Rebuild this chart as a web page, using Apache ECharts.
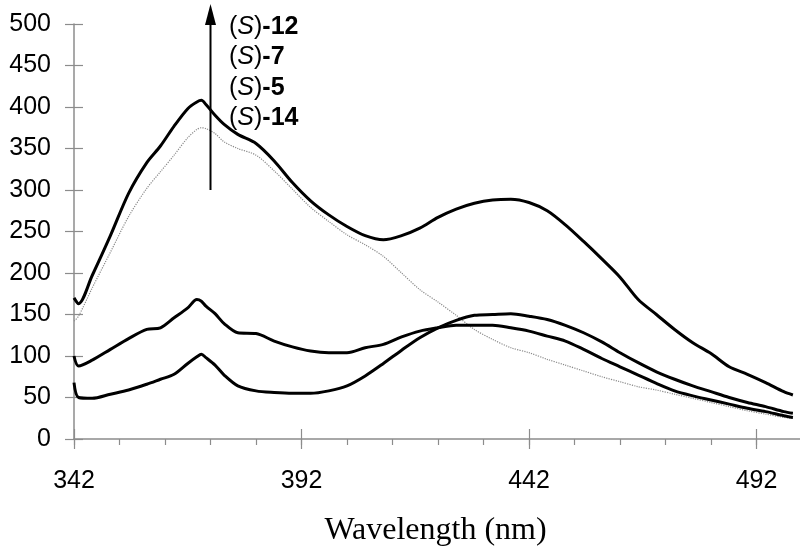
<!DOCTYPE html>
<html>
<head>
<meta charset="utf-8">
<script src="https://cdn.jsdelivr.net/npm/echarts@6/dist/echarts.min.js"></script>
<style>html,body{margin:0;padding:0;background:#fff}#chart{width:800px;height:558px}</style>
</head>
<body>
<div id="chart"></div>
<script>
// ---- data ----
const wavelengths = [342, 343, 346, 350, 354, 358, 361, 364, 367, 369, 370, 371, 373, 375, 378, 382, 386, 390, 394, 398, 402, 406, 410, 414, 418, 422, 426, 430, 434, 438, 442, 446, 450, 454, 458, 462, 466, 470, 474, 478, 482, 486, 490, 494, 498, 500];
const s12 = [170, 163, 197, 245, 296, 333, 353, 377, 398, 406, 408, 403, 390, 379, 367, 356, 335, 309, 287, 270, 256, 245, 240, 245, 254, 267, 277, 284, 288, 289, 285, 275, 258, 238, 217, 195, 168, 150, 132, 116, 103, 87, 78, 68, 57, 53];
const s7  = [142, 148, 182, 225, 268, 302, 322, 342, 363, 373, 375, 374, 368, 358, 350, 342, 323, 301, 279, 262, 246, 234, 220, 200, 180, 165, 149, 132, 120, 110, 104, 96, 89, 82, 75, 69, 63, 59, 54, 49, 44, 39, 34, 30, 26, 25];
const s5  = [100, 88, 95, 108, 121, 132, 134, 146, 158, 168, 166, 160, 151, 139, 128, 127, 118, 111, 106, 104, 104, 110, 114, 123, 130, 134, 137, 137, 137, 134, 130, 124, 118, 108, 97, 87, 77, 67, 58, 52, 47, 42, 37, 33, 28, 26];
const s14 = [68, 50, 49, 54, 59, 66, 72, 78, 91, 99, 102, 98, 89, 77, 64, 58, 56, 55, 55, 58, 64, 76, 91, 107, 122, 134, 143, 149, 150, 151, 148, 144, 137, 128, 117, 104, 92, 81, 72, 64, 57, 50, 44, 39, 33, 31];
const seriesNames = ['(S)-12', '(S)-7', '(S)-5', '(S)-14'];
const legendLabels = ['12', '7', '5', '14'];
const xTickLabels = [342, 392, 442, 492];
const yTickLabels = [0, 50, 100, 150, 200, 250, 300, 350, 400, 450, 500];
const arrowX = 372, arrowFrom = 300, arrowTo = 524;

// ---- chart ----
const chart = echarts.init(document.getElementById('chart'), null, {renderer: 'canvas'});
const pairs = arr => wavelengths.map((w, i) => [w, arr[i]]);
const AX = '#8c8c8c';
const SANS = '"Liberation Sans", Arial, sans-serif';
const SERIF = '"Liberation Serif", "Times New Roman", serif';
const xMin = xTickLabels[0], xMax = 502;
const yMin = yTickLabels[0], yMax = yTickLabels[yTickLabels.length - 1];

const xBase = {type: 'value', min: xMin, max: xMax, position: 'bottom', splitLine: {show: false}, axisLine: {show: false}, axisTick: {show: false}, axisLabel: {show: false}};
const yBase = {type: 'value', min: yMin, max: yMax, interval: 50, position: 'left', splitLine: {show: false}, axisLine: {show: false}, axisTick: {show: false}, axisLabel: {show: false}};

const option = {
  backgroundColor: '#fff',
  animation: false,
  grid: {left: 74, top: 24, width: 728, height: 415, containLabel: false, outerBoundsMode: 'none'},
  xAxis: [
    Object.assign({}, xBase, {interval: 10, axisLine: {show: true, onZero: false, lineStyle: {color: AX, width: 1.5}}, axisTick: {show: true, inside: false, length: 6, lineStyle: {color: AX, width: 1.2}}}),
    Object.assign({}, xBase, {interval: 50, axisTick: {show: true, inside: false, length: 10, lineStyle: {color: AX, width: 1.2}},
      axisLabel: {show: true, margin: 30, color: '#000', fontFamily: SANS, fontSize: 25, showMaxLabel: false,
        formatter: v => (xTickLabels.indexOf(v) >= 0 ? String(v) : '')},
      name: 'Wavelength (nm)', nameLocation: 'middle', nameGap: 76,
      nameTextStyle: {fontFamily: SERIF, fontSize: 32, color: '#000', padding: [0, 5, 0, 0]}}),
    Object.assign({}, xBase, {interval: 50, axisTick: {show: true, inside: true, length: 10, lineStyle: {color: AX, width: 1.2}}})
  ],
  yAxis: [
    Object.assign({}, yBase, {axisLine: {show: true, onZero: false, lineStyle: {color: AX, width: 1.5}}, axisTick: {show: true, inside: false, length: 9, lineStyle: {color: AX, width: 1.2}},
      axisLabel: {show: true, margin: 23, color: '#000', fontFamily: SANS, fontSize: 25}}),
    Object.assign({}, yBase, {axisTick: {show: true, inside: true, length: 9, lineStyle: {color: AX, width: 1.2}}})
  ],
  series: [
    {name: seriesNames[1], type: 'line', data: pairs(s7), showSymbol: false, smooth: 0.3, z: 2,
      lineStyle: {color: '#8a8a8a', width: 1.2, type: 'dotted'}},
    {name: seriesNames[0], type: 'line', data: pairs(s12), showSymbol: false, smooth: 0.3, z: 3,
      lineStyle: {color: '#000', width: 3}},
    {name: seriesNames[2], type: 'line', data: pairs(s5), showSymbol: false, smooth: 0.3, z: 3,
      lineStyle: {color: '#000', width: 3}},
    {name: seriesNames[3], type: 'line', data: pairs(s14), showSymbol: false, smooth: 0.3, z: 3,
      lineStyle: {color: '#000', width: 3}}
  ]
};
chart.setOption(option);

// annotation: arrow + labels
const pBot = chart.convertToPixel({xAxisIndex: 0, yAxisIndex: 0}, [arrowX, arrowFrom]);
const pTop = chart.convertToPixel({xAxisIndex: 0, yAxisIndex: 0}, [arrowX, arrowTo]);
const rich = {
  n: {fontFamily: SANS, fontSize: 25, fill: '#000', color: '#000'},
  i: {fontFamily: SANS, fontSize: 25, fontStyle: 'italic', fill: '#000', color: '#000'},
  b: {fontFamily: SANS, fontSize: 25, fontWeight: 'bold', fill: '#000', color: '#000'}
};
const labelTops = [27, 57.3, 87.7, 118];
const graphics = [
  {type: 'line', shape: {x1: pBot[0], y1: pBot[1], x2: pTop[0], y2: pTop[1] + 14}, style: {stroke: '#000', lineWidth: 2}, z: 10},
  {type: 'polygon', shape: {points: [[pTop[0], pTop[1]], [pTop[0] - 5.5, pTop[1] + 21], [pTop[0] + 5.5, pTop[1] + 21]]}, style: {fill: '#000'}, z: 10}
];
legendLabels.forEach((lab, k) => {
  graphics.push({type: 'text', x: 229, y: labelTops[k], z: 10,
    style: {text: '{n|(}{i|S}{n|)}{b|-' + lab + '}', rich: rich, verticalAlign: 'middle', align: 'left'}});
});
chart.setOption({graphic: graphics});
</script>
</body>
</html>
